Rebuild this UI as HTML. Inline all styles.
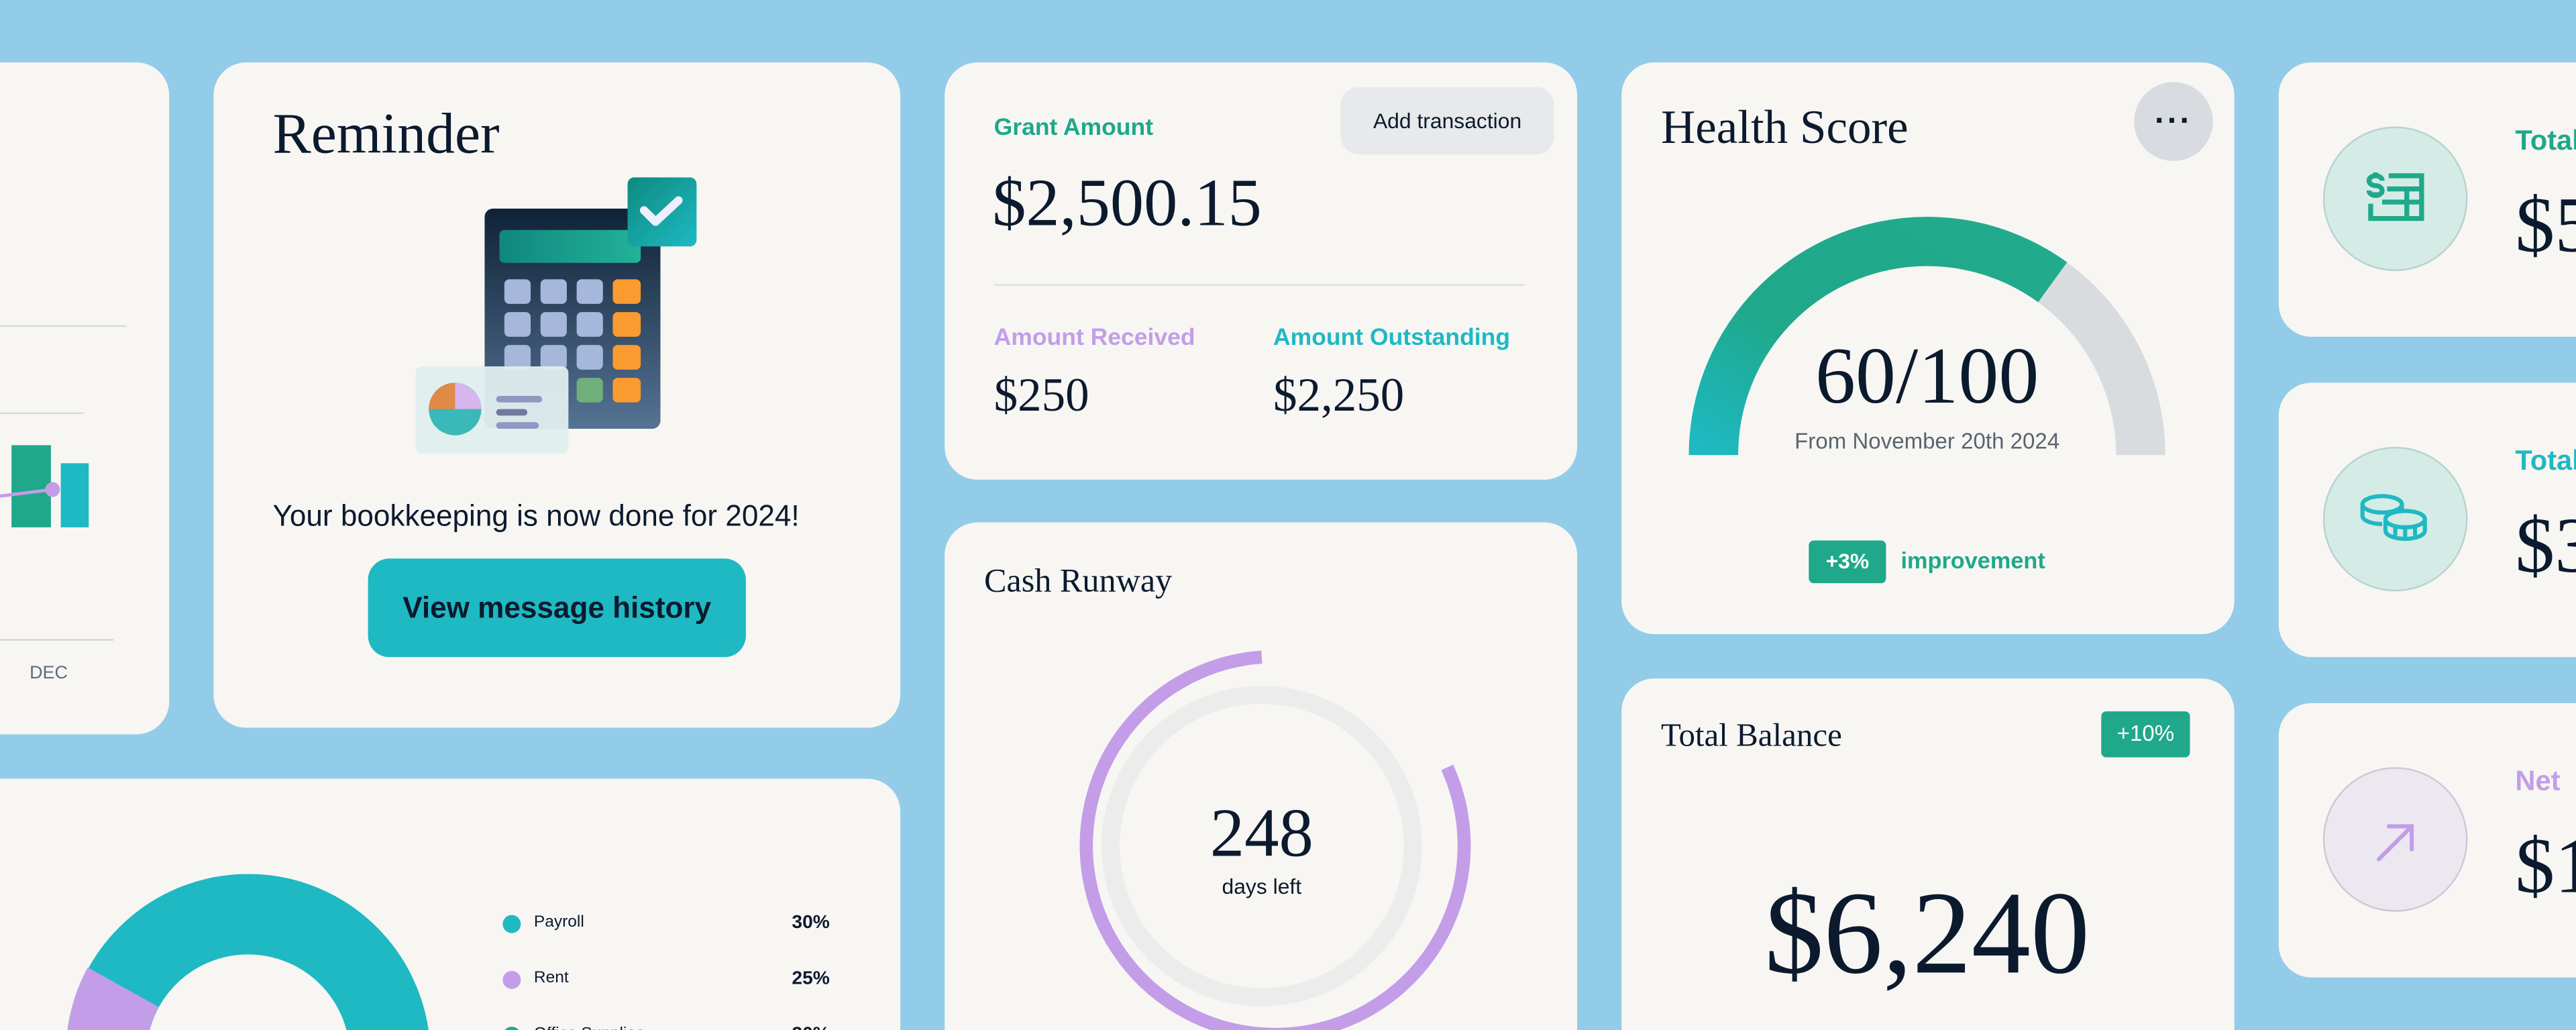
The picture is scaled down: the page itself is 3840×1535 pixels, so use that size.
<!DOCTYPE html>
<html><head><meta charset="utf-8"><style>
html,body{margin:0;padding:0;width:3840px;height:1535px;overflow:hidden;background:#93cce8}
#s{position:absolute;left:0;top:0;width:1568px;height:627px;overflow:hidden;transform:scale(2.449,2.4482);transform-origin:0 0;font-family:"Liberation Sans",sans-serif;color:#0c1a2e}
.c{position:absolute;background:#f7f6f3;border-radius:20px;overflow:hidden}
.a{position:absolute;white-space:nowrap}
.serif{font-family:"Liberation Serif",serif}
</style></head><body><div id="s">

<div class="c" style="left:-40px;top:38px;width:143px;height:409px">
 <div class="a" style="left:40px;top:160px;width:77px;height:1px;background:#d9d9d9"></div>
 <div class="a" style="left:40px;top:213px;width:51px;height:1px;background:#d9d9d9"></div>
 <div class="a" style="left:40px;top:351px;width:69px;height:1px;background:#d0d3d8"></div>
 <div class="a" style="left:47px;top:233px;width:24px;height:50px;background:#1fa88a"></div>
 <div class="a" style="left:77px;top:244px;width:17px;height:39px;background:#1eb9c2"></div>
 <svg class="a" style="left:40px;top:250px" width="40" height="20"><line x1="0" y1="14" x2="32" y2="10" stroke="#c39de8" stroke-width="2"/><circle cx="32" cy="10" r="4.5" fill="#c39de8"/></svg>
 <div class="a" style="left:58px;top:366px;font-size:11px;color:#5d6b80">DEC</div>
</div>

<div class="c" style="left:130px;top:38px;width:418px;height:405px">
 <div class="a serif" style="left:36px;top:24px;font-size:35px">Reminder</div>
 <svg class="a" style="left:120px;top:30px" width="180" height="215">
  <defs>
   <linearGradient id="cb" x1="0" y1="0" x2="0" y2="1"><stop offset="0" stop-color="#0f2236"/><stop offset="1" stop-color="#557394"/></linearGradient>
   <linearGradient id="sc" x1="0" y1="0" x2="1" y2="0"><stop offset="0" stop-color="#10877d"/><stop offset="1" stop-color="#22b29a"/></linearGradient>
   <linearGradient id="ck" x1="0" y1="0" x2="1" y2="1"><stop offset="0" stop-color="#0e8a80"/><stop offset="1" stop-color="#1eb9c2"/></linearGradient>
  </defs>
  <rect x="45" y="59" width="107" height="134" rx="5" fill="url(#cb)"/>
  <rect x="54" y="72" width="86" height="20" rx="3" fill="url(#sc)"/>
  <g fill="#a6b7dc">
   <rect x="57" y="102" width="16" height="15" rx="3"/><rect x="79" y="102" width="16" height="15" rx="3"/><rect x="101" y="102" width="16" height="15" rx="3"/>
   <rect x="57" y="122" width="16" height="15" rx="3"/><rect x="79" y="122" width="16" height="15" rx="3"/><rect x="101" y="122" width="16" height="15" rx="3"/>
   <rect x="57" y="142" width="16" height="15" rx="3"/><rect x="79" y="142" width="16" height="15" rx="3"/><rect x="101" y="142" width="16" height="15" rx="3"/>
  </g>
  <rect x="101" y="162" width="16" height="15" rx="3" fill="#6fb07a"/>
  <g fill="#fb9a2e"><rect x="123" y="102" width="17" height="15" rx="3"/><rect x="123" y="122" width="17" height="15" rx="3"/><rect x="123" y="142" width="17" height="15" rx="3"/><rect x="123" y="162" width="17" height="15" rx="3"/></g>
  <rect x="132" y="40" width="42" height="42" rx="4" fill="url(#ck)"/>
  <path d="M142 60 l7 7 l14 -13" stroke="#eef" stroke-width="5" fill="none" stroke-linecap="round" stroke-linejoin="round"/>
  <rect x="3" y="155" width="93" height="53" rx="4" fill="#dfeeee" opacity="0.95"/>
  <circle cx="27" cy="181" r="16" fill="#3bb8b8"/>
  <path d="M27 181 L27 165 A16 16 0 0 0 11 181 Z" fill="#e08a48"/>
  <path d="M27 181 L43 181 A16 16 0 0 0 27 165 Z" fill="#d6b6ec"/>
  <rect x="52" y="173" width="28" height="4" rx="2" fill="#8e98c0"/>
  <rect x="52" y="181" width="19" height="4" rx="2" fill="#6e7b9c"/>
  <rect x="52" y="189" width="26" height="4" rx="2" fill="#8e98c0"/>
 </svg>
 <div class="a" style="left:36px;top:266px;font-size:18px">Your bookkeeping is now done for 2024!</div>
 <div class="a" style="left:94px;top:302px;width:230px;height:60px;border-radius:13px;background:#1eb9c2;font-size:18px;font-weight:bold;line-height:60px;text-align:center;color:#0c1a2e">View message history</div>
</div>

<div class="c" style="left:-40px;top:474px;width:588px;height:200px">
 <svg class="a" style="left:40px;top:0" width="300" height="200">
  <circle cx="151" cy="169" r="86.5" fill="none" stroke="#1eb9c2" stroke-width="49"/>
  <path d="M 53.4 114.9 A 111.5 111.5 0 0 0 40 169 L 89 169 A 62 62 0 0 1 96.6 139 Z" fill="#c39de8"/>
 </svg>
 <div class="a" style="left:346px;top:83px;width:11px;height:11px;border-radius:50%;background:#1eb9c2"></div>
 <div class="a" style="left:365px;top:82px;font-size:10px">Payroll</div>
 <div class="a" style="left:522px;top:82px;font-size:11.5px;font-weight:bold">30%</div>
 <div class="a" style="left:346px;top:117px;width:11px;height:11px;border-radius:50%;background:#c39de8"></div>
 <div class="a" style="left:365px;top:116px;font-size:10px">Rent</div>
 <div class="a" style="left:522px;top:116px;font-size:11.5px;font-weight:bold">25%</div>
 <div class="a" style="left:346px;top:151px;width:11px;height:11px;border-radius:50%;background:#1fa88a"></div>
 <div class="a" style="left:365px;top:150px;font-size:10px">Office Supplies</div>
 <div class="a" style="left:522px;top:150px;font-size:11.5px;font-weight:bold">20%</div>
</div>

<div class="c" style="left:575px;top:38px;width:385px;height:254px">
 <div class="a" style="left:30px;top:32px;font-size:14.5px;font-weight:bold;color:#1fa88a">Grant Amount</div>
 <div class="a serif" style="left:29px;top:61px;font-size:41px">$2,500.15</div>
 <div class="a" style="left:241px;top:15px;width:130px;height:41px;border-radius:11px;background:#e8e9eb;font-size:13px;line-height:41px;text-align:center">Add transaction</div>
 <div class="a" style="left:30px;top:135px;width:323px;height:1px;background:#dedede"></div>
 <div class="a" style="left:30px;top:160px;font-size:14.5px;font-weight:bold;color:#c39de8">Amount Received</div>
 <div class="a" style="left:200px;top:160px;font-size:14.5px;font-weight:bold;color:#1eb9c2">Amount Outstanding</div>
 <div class="a serif" style="left:30px;top:187px;font-size:29px">$250</div>
 <div class="a serif" style="left:200px;top:187px;font-size:29px">$2,250</div>
</div>

<div class="c" style="left:575px;top:318px;width:385px;height:340px">
 <div class="a serif" style="left:24px;top:25px;font-size:20.5px">Cash Runway</div>
 <svg class="a" style="left:0;top:0" width="385" height="340">
  <circle cx="193" cy="197" r="92" fill="none" stroke="#ececec" stroke-width="11"/>
  <path d="M 193 82 A 115 115 0 1 0 305.9 149.1" fill="none" stroke="#c39de8" stroke-width="8"/>
 </svg>
 <div class="a serif" style="left:93px;top:166px;width:200px;text-align:center;font-size:42px">248</div>
 <div class="a" style="left:93px;top:214px;width:200px;text-align:center;font-size:13px">days left</div>
</div>

<div class="c" style="left:987px;top:38px;width:373px;height:348px">
 <div class="a serif" style="left:24px;top:24px;font-size:29px">Health Score</div>
 <div class="a" style="left:312px;top:12px;width:48px;height:48px;border-radius:50%;background:#d8dce0;text-align:center;line-height:48px;font-size:20px;font-weight:bold;letter-spacing:1px">···</div>
 <svg class="a" style="left:0;top:0" width="373" height="348">
  <defs><linearGradient id="hg" x1="0" y1="1" x2="1" y2="0"><stop offset="0" stop-color="#1eb9c2"/><stop offset="0.4" stop-color="#1fa88a"/><stop offset="1" stop-color="#22aa8c"/></linearGradient></defs>
  <path d="M 56 239 A 130 130 0 0 1 316 239" fill="none" stroke="#d9dcdf" stroke-width="30"/>
  <path d="M 56 239 A 130 130 0 0 1 262.4 133.8" fill="none" stroke="url(#hg)" stroke-width="30"/>
 </svg>
 <div class="a serif" style="left:36px;top:162px;width:300px;text-align:center;font-size:49px">60/100</div>
 <div class="a" style="left:56px;top:223px;width:260px;text-align:center;font-size:13.5px;color:#5a6470">From November 20th 2024</div>
 <div class="a" style="left:114px;top:291px;width:47px;height:26px;border-radius:3px;background:#1fa88a;color:#fff;font-size:13px;font-weight:bold;line-height:26px;text-align:center">+3%</div>
 <div class="a" style="left:170px;top:295px;font-size:14px;font-weight:bold;color:#1fa88a">improvement</div>
</div>

<div class="c" style="left:987px;top:413px;width:373px;height:260px">
 <div class="a serif" style="left:24px;top:24px;font-size:20px">Total Balance</div>
 <div class="a" style="left:292px;top:20px;width:54px;height:28px;border-radius:3px;background:#1fa88a;color:#fff;font-size:13.5px;line-height:28px;text-align:center">+10%</div>
 <div class="a serif" style="left:36px;top:114px;width:300px;text-align:center;font-size:72px">$6,240</div>
</div>

<div class="c" style="left:1387px;top:38px;width:240px;height:167px">
 <div class="a" style="left:27px;top:39px;width:88px;height:88px;border-radius:50%;background:#d5ebe6;border:1px solid #b8d2d0;box-sizing:border-box"></div>
 <svg class="a" style="left:50px;top:63px" width="44" height="40"><g fill="none" stroke="#1fa88a" stroke-width="3"><path d="M9 4 v2 M13 9 a4 3 0 0 0 -8 0 a4 3 0 0 0 4 3 a4 3 0 0 1 4 3 a4 3 0 0 1 -8 0 M9 16 v2"/><path d="M17 6 h20 v26 h-31 v-9"/><path d="M13 22 h24 M16 14 h21 M28 14 v18"/></g></svg>
 <div class="a" style="left:144px;top:38px;font-size:17px;font-weight:bold;color:#1fa88a">Total</div>
 <div class="a serif" style="left:144px;top:72px;font-size:48px">$5</div>
</div>
<div class="c" style="left:1387px;top:233px;width:240px;height:167px">
 <div class="a" style="left:27px;top:39px;width:88px;height:88px;border-radius:50%;background:#d5ebe6;border:1px solid #b8d2d0;box-sizing:border-box"></div>
 <svg class="a" style="left:48px;top:65px" width="48" height="36"><g fill="none" stroke="#1eb9c2" stroke-width="2.5"><ellipse cx="15" cy="9" rx="12" ry="5"/><path d="M3 9 v7 c0 3 6 5 12 5 M27 9 v4"/><ellipse cx="29" cy="18" rx="12" ry="5"/><path d="M17 18 v7 c0 3 6 5 12 5 s12 -2 12 -5 v-7 M23 23 v5 M29 23 v6 M35 23 v5"/></g></svg>
 <div class="a" style="left:144px;top:38px;font-size:17px;font-weight:bold;color:#1eb9c2">Total</div>
 <div class="a serif" style="left:144px;top:72px;font-size:48px">$3</div>
</div>
<div class="c" style="left:1387px;top:428px;width:240px;height:167px">
 <div class="a" style="left:27px;top:39px;width:88px;height:88px;border-radius:50%;background:#ece8ef;border:1px solid #cfc6d8;box-sizing:border-box"></div>
 <svg class="a" style="left:56px;top:68px" width="32" height="32"><g fill="none" stroke="#c39de8" stroke-width="2.5" stroke-linecap="round"><path d="M5 27 L25 7 M11 7 h14 v14"/></g></svg>
 <div class="a" style="left:144px;top:38px;font-size:17px;font-weight:bold;color:#c39de8">Net</div>
 <div class="a serif" style="left:144px;top:72px;font-size:48px">$1</div>
</div>

</div></body></html>
